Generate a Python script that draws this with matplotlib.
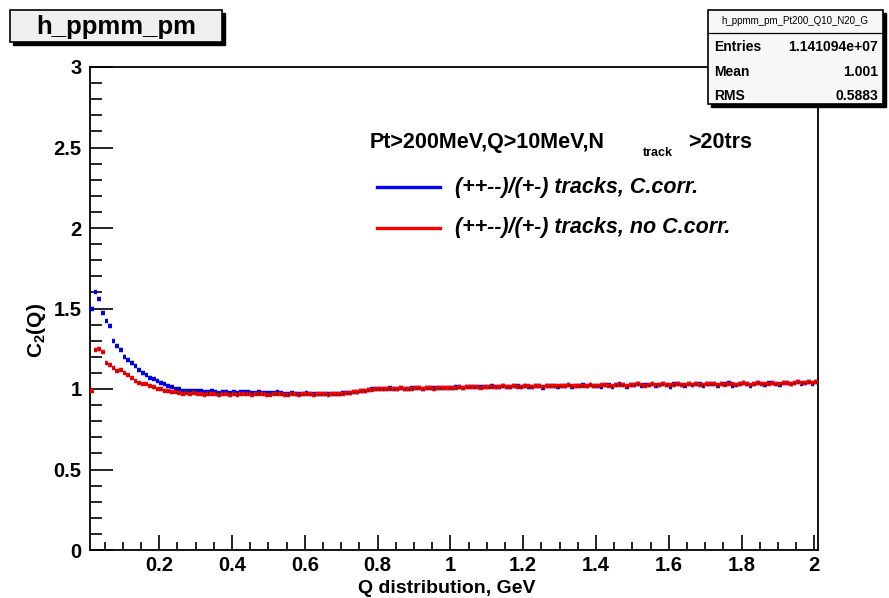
import numpy as np
import matplotlib
matplotlib.use("Agg")
import matplotlib.pyplot as plt
from matplotlib.patches import Rectangle
from matplotlib.lines import Line2D
from matplotlib.ticker import MultipleLocator

plt.rcParams['font.family'] = ['Liberation Sans', 'DejaVu Sans']
plt.rcParams['font.weight'] = 'bold'
plt.rcParams['mathtext.fontset'] = 'custom'
plt.rcParams['mathtext.rm'] = 'Liberation Sans:bold'
plt.rcParams['mathtext.it'] = 'Liberation Sans:bold:italic'
plt.rcParams['mathtext.bf'] = 'Liberation Sans:bold'

# histogram binning: 200 bins of 10 MeV from 0.01 to 2.01 GeV
q_lo, q_hi, n_bins = 0.01, 2.01, 200

# low-Q part (first 30 bins)
blue_low = [1.50, 1.60, 1.56, 1.47, 1.42, 1.39, 1.30, 1.27, 1.24, 1.20,
            1.18, 1.16, 1.14, 1.12, 1.10, 1.09, 1.07, 1.06, 1.05, 1.04,
            1.03, 1.02, 1.01, 1.00, 1.00, 0.99, 0.99, 0.99, 0.985, 0.99]
red_low = [0.99, 1.24, 1.25, 1.23, 1.16, 1.15, 1.13, 1.11, 1.12, 1.10,
           1.09, 1.07, 1.05, 1.04, 1.03, 1.03, 1.02, 1.01, 1.00, 1.00,
           0.99, 0.99, 0.98, 0.98, 0.975, 0.97, 0.975, 0.97, 0.975, 0.97]

# rest of the range (bins 30..199)
red_tail = [0.970, 0.965, 0.968, 0.972, 0.966, 0.964, 0.969, 0.970, 0.965, 0.967,
            0.963, 0.966, 0.970, 0.968, 0.964, 0.966, 0.971, 0.967, 0.963, 0.965,
            0.968, 0.972, 0.966, 0.962, 0.964, 0.969, 0.966, 0.963, 0.967, 0.970,
            0.966, 0.964, 0.968, 0.971, 0.967, 0.965, 0.969, 0.966, 0.970, 0.972,
            0.974, 0.976, 0.979, 0.983, 0.985, 0.988, 0.992, 0.996, 0.998, 1.000,
            0.999, 1.001, 1.003, 1.000, 1.002, 1.004, 1.002, 1.001, 1.003, 1.005,
            1.004, 1.002, 1.006, 1.005, 1.003, 1.007, 1.006, 1.004, 1.008, 1.007,
            1.009, 1.011, 1.008, 1.012, 1.010, 1.013, 1.011, 1.009, 1.014, 1.012,
            1.015, 1.013, 1.011, 1.016, 1.014, 1.012, 1.017, 1.015, 1.013, 1.018,
            1.016, 1.014, 1.019, 1.017, 1.015, 1.020, 1.016, 1.018, 1.021, 1.017,
            1.019, 1.022, 1.018, 1.020, 1.016, 1.021, 1.019, 1.023, 1.020, 1.018,
            1.022, 1.025, 1.021, 1.019, 1.024, 1.027, 1.022, 1.020, 1.025, 1.023,
            1.028, 1.024, 1.021, 1.026, 1.029, 1.023, 1.025, 1.030, 1.026, 1.022,
            1.027, 1.031, 1.025, 1.023, 1.028, 1.026, 1.032, 1.027, 1.024, 1.029,
            1.033, 1.028, 1.025, 1.030, 1.027, 1.034, 1.029, 1.026, 1.031, 1.035,
            1.030, 1.027, 1.032, 1.036, 1.031, 1.028, 1.034, 1.038, 1.033, 1.030,
            1.035, 1.039, 1.034, 1.037, 1.041, 1.036, 1.039, 1.043, 1.038, 1.042]
blue_tail = [0.985, 0.980, 0.982, 0.986, 0.979, 0.977, 0.983, 0.984, 0.978, 0.980,
             0.976, 0.979, 0.983, 0.980, 0.975, 0.977, 0.982, 0.978, 0.973, 0.975,
             0.977, 0.980, 0.974, 0.970, 0.971, 0.975, 0.971, 0.968, 0.971, 0.973,
             0.968, 0.966, 0.969, 0.972, 0.968, 0.966, 0.970, 0.967, 0.971, 0.973,
             0.975, 0.977, 0.980, 0.984, 0.986, 0.989, 0.993, 0.997, 0.999, 1.001,
             1.000, 1.002, 1.004, 1.001, 1.003, 1.005, 1.003, 1.002, 1.004, 1.006,
             1.005, 1.003, 1.007, 1.006, 1.004, 1.008, 1.007, 1.005, 1.009, 1.008,
             1.010, 1.012, 1.009, 1.013, 1.011, 1.014, 1.012, 1.010, 1.015, 1.013,
             1.016, 1.014, 1.012, 1.017, 1.015, 1.013, 1.018, 1.016, 1.014, 1.019,
             1.010, 1.015, 1.020, 1.018, 1.008, 1.021, 1.017, 1.019, 1.010, 1.018,
             1.020, 1.023, 1.011, 1.021, 1.017, 1.022, 1.020, 1.024, 1.021, 1.019,
             1.015, 1.026, 1.022, 1.012, 1.025, 1.028, 1.023, 1.013, 1.026, 1.024,
             1.029, 1.017, 1.022, 1.027, 1.030, 1.016, 1.026, 1.031, 1.027, 1.015,
             1.028, 1.032, 1.026, 1.016, 1.029, 1.027, 1.033, 1.028, 1.017, 1.030,
             1.034, 1.029, 1.019, 1.031, 1.028, 1.035, 1.020, 1.027, 1.032, 1.036,
             1.031, 1.021, 1.033, 1.037, 1.032, 1.022, 1.035, 1.039, 1.034, 1.024,
             1.036, 1.040, 1.028, 1.038, 1.042, 1.030, 1.040, 1.044, 1.032, 1.043]

blue = np.array(blue_low + blue_tail)
red = np.array(red_low + red_tail)

hist_name = "h_ppmm_pm"
stats_name = "h_ppmm_pm_Pt200_Q10_N20_G"
stats = [("Entries", "1.141094e+07"), ("Mean", "1.001"), ("RMS", "0.5883")]
labels = ["(++--)/(+-) tracks, C.corr.", "(++--)/(+-) tracks, no C.corr."]
colors = ["#0000ff", "#ff0000"]

W, H = 889, 598
fig = plt.figure(figsize=(W / 100, H / 100), dpi=100)
ax = fig.add_axes([90 / W, 48 / H, 728 / W, 483 / H])

edges = np.linspace(q_lo, q_hi, n_bins + 1)
centers = 0.5 * (edges[:-1] + edges[1:])

for vals, c in [(blue, colors[0]), (red, colors[1])]:
    ax.hlines(vals, edges[:-1], edges[1:], colors=c, linewidth=3.2, zorder=3)
    ax.plot(centers, vals, 's', ms=0.9, mew=0, color='black', zorder=4)

ax.set_xlim(q_lo, q_hi)
ax.set_ylim(0, 3)
ax.xaxis.set_major_locator(MultipleLocator(0.2))
ax.xaxis.set_minor_locator(MultipleLocator(0.05))
ax.yaxis.set_major_locator(MultipleLocator(0.5))
ax.yaxis.set_minor_locator(MultipleLocator(0.1))
ax.xaxis.set_major_formatter(plt.FuncFormatter(lambda v, p: f"{v:g}"))
ax.yaxis.set_major_formatter(plt.FuncFormatter(lambda v, p: f"{v:g}"))
ax.tick_params(direction='in', which='both', top=False, right=False,
               labelsize=14.5, width=1.2)
ax.tick_params(axis='y', which='major', length=16.5, pad=6)
ax.tick_params(axis='y', which='minor', length=8.5)
ax.tick_params(axis='x', which='major', length=10.5, pad=4)
ax.tick_params(axis='x', which='minor', length=5.5)
for lab in ax.get_xticklabels() + ax.get_yticklabels():
    lab.set_fontweight('bold')
for s in ax.spines.values():
    s.set_linewidth(1.3)

ax.set_xlabel("Q distribution, GeV", fontsize=14, fontweight='bold')
ax.xaxis.set_label_coords(0.49, -0.062)
ax.set_ylabel(r"C$_{\mathregular{2}}$(Q)", fontsize=15, fontweight='bold')
ax.yaxis.set_label_coords(-0.058, 0.455)


def px(x, y):
    return x / W, 1 - y / H


# title box
fig.add_artist(Rectangle(px(13, 45), 212 / W, 32 / H, transform=fig.transFigure,
                         facecolor='black', edgecolor='black', zorder=5))
fig.add_artist(Rectangle(px(10, 42), 212 / W, 32 / H, transform=fig.transFigure,
                         facecolor='#f0f0f0', edgecolor='black', lw=1.2, zorder=6))
fig.text(*px(116, 27), hist_name, ha='center', va='center', fontsize=18.5,
         fontweight='bold', zorder=7)

# stats box
fig.add_artist(Rectangle(px(711, 107), 175 / W, 94 / H, transform=fig.transFigure,
                         facecolor='black', edgecolor='black', zorder=5))
fig.add_artist(Rectangle(px(708, 104), 175 / W, 94 / H, transform=fig.transFigure,
                         facecolor='#f7f7f7', edgecolor='black', lw=1.2, zorder=6))
fig.add_artist(Line2D([708 / W, 883 / W], [1 - 33 / H, 1 - 33 / H],
                      transform=fig.transFigure, color='black', lw=0.9, zorder=7))
fig.text(*px(795, 21), stats_name, ha='center', va='center', fontsize=7,
         fontweight='normal', zorder=7)
for i, (k, v) in enumerate(stats):
    y = 47 + 24.5 * i
    fig.text(*px(714, y), k, ha='left', va='center', fontsize=10, zorder=7)
    fig.text(*px(878, y), v, ha='right', va='center', fontsize=10, zorder=7)

# legend
fig.text(*px(370, 143), "Pt>200MeV,Q>10MeV,N", ha='left', va='center', fontsize=15.5)
fig.text(*px(643, 153), "track", ha='left', va='center', fontsize=9)
fig.text(*px(688, 143), ">20trs", ha='left', va='center', fontsize=15.5)
for i, (lab, c) in enumerate(zip(labels, colors)):
    y = 187 + 41 * i
    fig.add_artist(Line2D([377 / W, 440 / W], [1 - y / H, 1 - y / H],
                          transform=fig.transFigure, color=c, lw=2.4))
    fig.text(*px(455, y), lab, ha='left', va='center', fontsize=15.5,
             fontstyle='italic')

fig.savefig("out.png", dpi=100)
